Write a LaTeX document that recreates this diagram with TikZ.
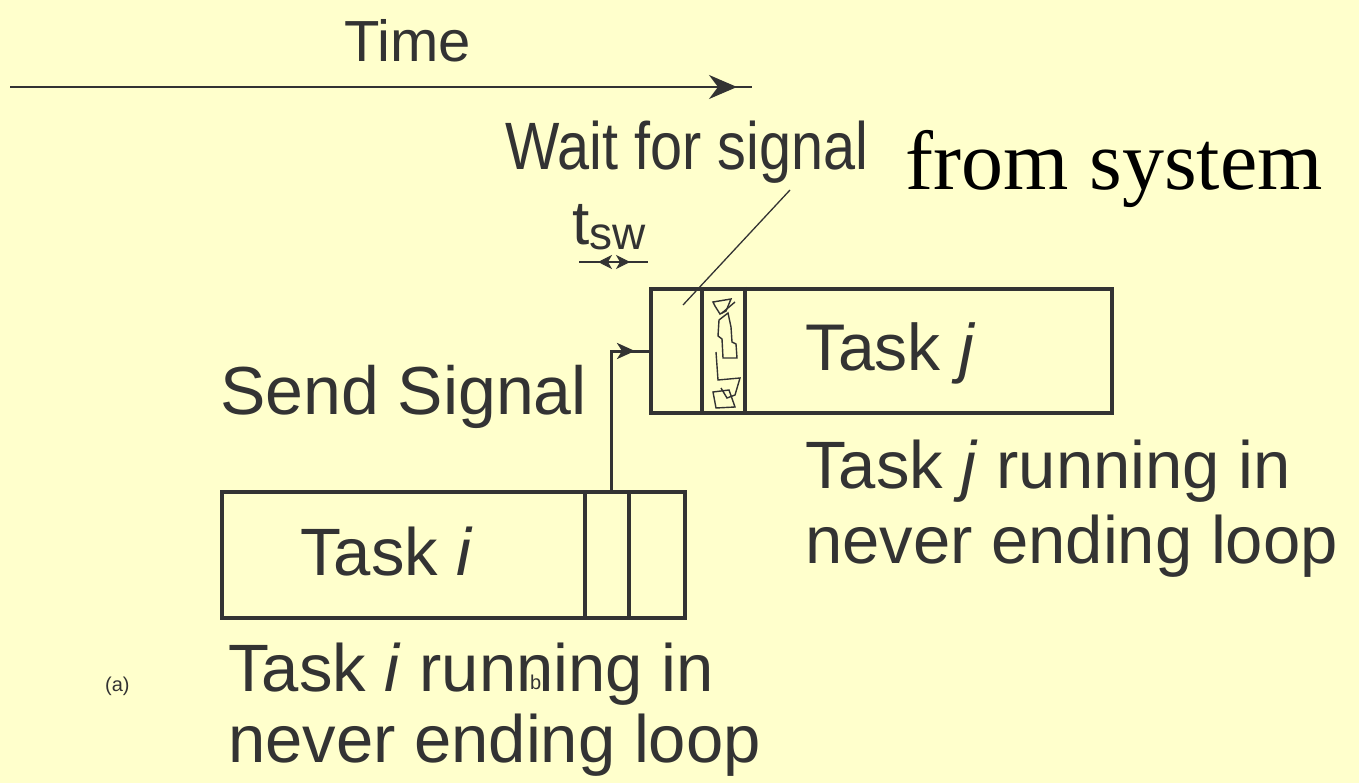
\documentclass[tikz,border=0pt]{standalone}
\usepackage{fontspec}
\setmainfont{Liberation Sans}
\newfontfamily\serifX{Liberation Serif}
\usetikzlibrary{arrows.meta}
\definecolor{bg}{HTML}{FFFFCC}
\definecolor{ink}{HTML}{333333}
\begin{document}
\begin{tikzpicture}[x=1pt,y=-1pt,
  box/.style={draw=ink, line width=4pt, inner sep=0pt, anchor=north west},
  divline/.style={draw=ink, line width=4pt},
  conn/.style={draw=ink, line width=3pt},
  thin/.style={draw=ink, line width=1.3pt},
  lbl/.style={text=ink, inner sep=0pt, anchor=base west, font=\fontsize{67}{80}\selectfont},
  small/.style={text=ink, inner sep=0pt, anchor=base west, font=\fontsize{20}{24}\selectfont}]
\fill[bg] (0,0) rectangle (1359,783);
\useasboundingbox (0,0) rectangle (1359,783);

% time axis
\node[lbl, font=\fontsize{58}{70}\selectfont] (time) at (344,62) {Time};
\coordinate (t0) at (10,87);
\coordinate (t1) at (752,87);
\draw[thin, line width=2pt] (t0) -- (t1);
\draw[ink, line width=2pt, -{Stealth[length=28pt,width=24pt,inset=9pt]}] (700,87) -- (737,87);

% boxes
\node[box, minimum width=461pt, minimum height=124pt] (tj) at (649,287) {};
\node[box, minimum width=463pt, minimum height=126pt] (ti) at (220,490) {};
\draw[divline] ([xshift=53pt]tj.north west) -- ([xshift=53pt]tj.south west);
\draw[divline] ([xshift=96pt]tj.north west) -- ([xshift=96pt]tj.south west);
\draw[divline] ([xshift=365pt]ti.north west) -- ([xshift=365pt]ti.south west);
\draw[divline] ([xshift=409pt]ti.north west) -- ([xshift=409pt]ti.south west);

% box texts
\node[lbl, font=\fontsize{66}{76}\selectfont] (tjt) at (805,370) {Task \textit{j}};
\node[lbl] (tit) at (300,575) {Task \textit{i}};

% hatch squiggles
\begin{scope}[thin, line width=1.4pt]
\draw (713,302) -- (731,299) -- (726,311) -- (720,314) -- (715,306) -- cycle;
\draw (722,313) -- (735,302);
\draw (719,320) -- (728,313) -- (731,327) -- (732,342) -- (736,344) -- (737,358) -- (723,358) -- (722,339) -- (718,336) -- cycle;
\draw (716,352) -- (718,380) -- (740,378) -- (735,395) -- (727,398) -- (721,388);
\draw (713,392) -- (729,390) -- (735,407) -- (716,408) -- cycle;
\end{scope}

% send signal connector
\coordinate (sv) at ([xshift=391pt]ti.north west);
\draw[conn] (sv) |- (tj.west);
\draw[ink, line width=3pt, -{Stealth[length=18pt,width=16pt,inset=5pt]}] (sv |- tj.west) -- ++(24,0);

% labels
\node[lbl, font=\fontsize{68}{80}\selectfont] (send) at (220,414) {Send Signal};
\node[lbl, xscale=0.86, transform shape] (wait) at (505,170) {Wait for signal};
\node[inner sep=0pt, anchor=base west, font=\serifX\fontsize{84}{96}\selectfont] (from) at (905,190) {from system};
\coordinate (d1) at (790,190);
\coordinate (d2) at (683,305);
\draw[thin] (d1) -- (d2);

% t_sw
\node[lbl, font=\fontsize{62}{70}\selectfont] (tsw) at (572,245) {t\raisebox{-5pt}{\fontsize{46}{50}\selectfont sw}};
\coordinate (s0) at (579,262);
\coordinate (s1) at (648,262);
\coordinate (sc) at (614,262);
\draw[ink, line width=2pt] (s0) -- (s1);
\draw[ink, line width=1pt, -{Stealth[length=14pt,width=14pt,inset=4pt]}] (sc) -- ++(-16,0);
\draw[ink, line width=1pt, -{Stealth[length=14pt,width=14pt,inset=4pt]}] (sc) -- ++(16,0);

% running labels
\node[lbl] (jr1) at (805,488) {Task \textit{j} running in};
\node[lbl] (jr2) at (805,563) {never ending loop};
\node[lbl] (ir1) at (228,691) {Task \textit{i} running in};
\node[lbl] (ir2) at (228,762) {never ending loop};

\node[small] (a) at (105,691) {(a)};
\node[small] (b) at (530,689) {b};
\end{tikzpicture}
\end{document}
